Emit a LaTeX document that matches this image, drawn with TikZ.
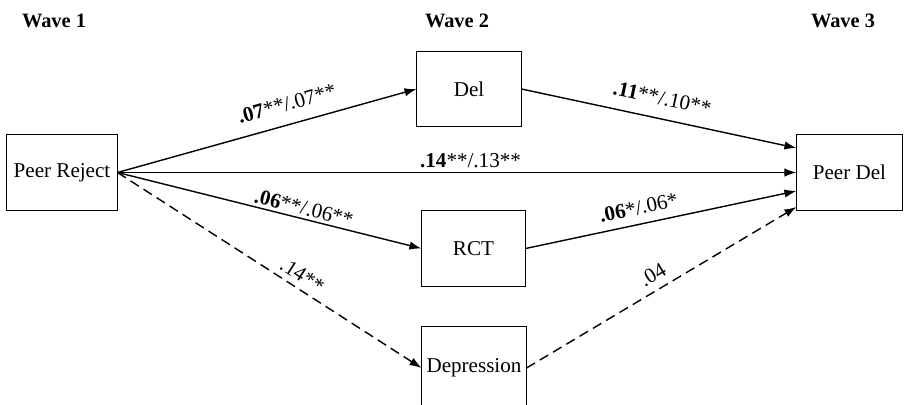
\documentclass[tikz,border=0pt]{standalone}
\usepackage{fontspec}
\setmainfont{Liberation Serif}
\newfontfamily\timesfont{Liberation Serif}
\usetikzlibrary{arrows.meta,calc}

\tikzstyle{var}=[draw, line width=0.7pt, minimum height=1.875cm, inner sep=0pt]
\tikzstyle{wave}=[font=\timesfont\fontsize{14.5}{17}\selectfont\bfseries]
\tikzstyle{eff}=[line width=1pt, -{Latex[length=8.5pt,width=6pt]}]
\tikzstyle{ns}=[eff, dash pattern=on 7pt off 4pt]
\tikzstyle{coef}=[sloped, inner sep=0pt]

\begin{document}
\begin{tikzpicture}[x=0.025cm, y=-0.025cm, font=\timesfont\fontsize{15}{18}\selectfont]
					\useasboundingbox (0,0) rectangle (904,405);
					\clip (0,0) rectangle (904,405);

					% Waves
					\node[wave] (w1) at (54,21) {Wave 1};
					\node[wave] (w2) at (457,21) {Wave 2};
					\node[wave] (w3) at (843,21) {Wave 3};

					% Variables
					\node[var, minimum width=2.75cm] (rej) at (62,172.5) {Peer Reject};
					\node[var, minimum width=2.6cm, minimum height=1.89cm] (del) at (469,89) {Del};
					\node[var, minimum width=2.58cm] (rct) at (473.5,248.5) {RCT};
					\node[var, minimum width=2.6cm, minimum height=2.05cm] (dep) at (474,368) {Depression};
					\node[var, minimum width=2.63cm] (pdel) at (849.5,172.5) {Peer Del};

					% Paths
					\draw[eff] (rej.east) -- (del.west) node[coef, above=9.2pt, pos=0.585] {\textbf{.07}**/.07**};
					\draw[eff] (rej.east) -- (pdel.west) node[coef, above=2.8pt, pos=0.52] {\textbf{.14}**/.13**};
					\draw[eff] (rej.east) -- (rct.west) node[coef, above=2.1pt, pos=0.605] {\textbf{.06}**/.06**};
					\draw[ns] (rej.east) -- (dep.west) node[coef, above=4pt, pos=0.584] {.14**};
					\draw[eff] (del.east) -- ($(pdel.west)+(0,-24.5)$) node[coef, above=9pt, pos=0.496] {\textbf{.11}**/.10**};
					\draw[eff] (rct.east) -- ($(pdel.west)+(0,18.5)$) node[coef, above=6.1pt, pos=0.43] {\textbf{.06}*/.06*};
					\draw[ns] (dep.east) -- ($(pdel.west)+(0,34.5)$) node[coef, above=5.4pt, pos=0.497] {.04};
				\end{tikzpicture}
\end{document}
